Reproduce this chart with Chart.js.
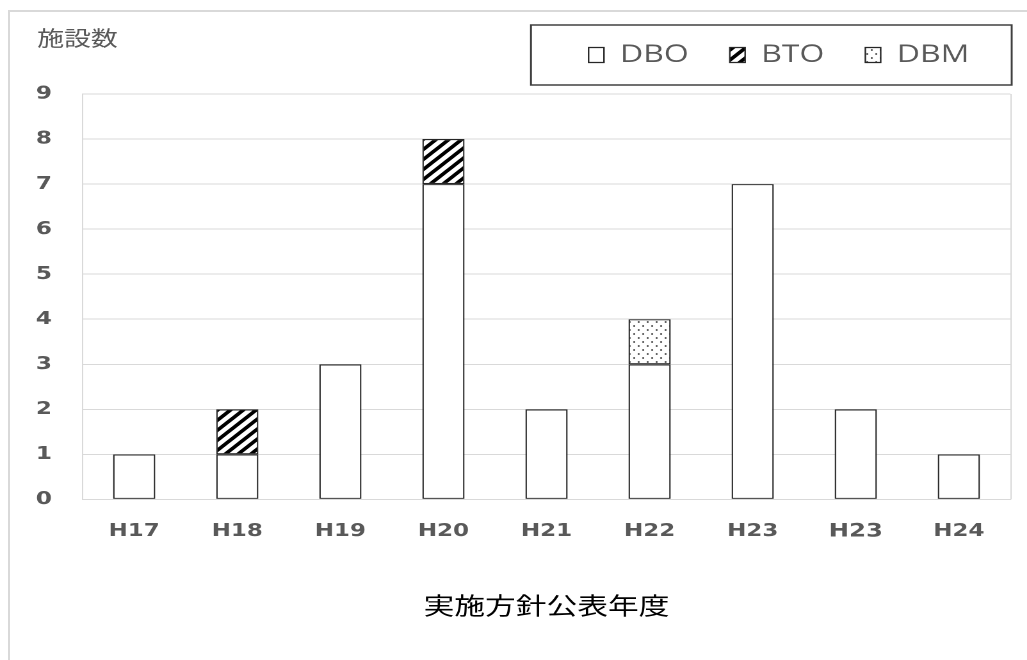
<!DOCTYPE html>
<html>
<head>
<meta charset="utf-8">
<script src="https://cdn.jsdelivr.net/npm/chart.js@4"></script>
<style>
  html, body { margin: 0; padding: 0; background: #fff; overflow: hidden; }
  #frame { position: absolute; left: 8px; top: 10px; width: 1030px; height: 660px;
           border-left: 2px solid #d9d9d9; border-top: 2px solid #d9d9d9; }
  /* the reference is stretched sideways, so draw narrow and widen */
  #wrap { position: absolute; left: 0; top: 0; width: 802px; height: 660px;
          transform: scaleX(1.2806); transform-origin: 0 0; }
</style>
</head>
<body>
<div id="frame"></div>
<div id="wrap"><canvas id="chart" width="802" height="660"></canvas></div>
<script>
const years = ['H17', 'H18', 'H19', 'H20', 'H21', 'H22', 'H23', 'H23', 'H24'];
const dbo = [1, 1, 3, 7, 2, 3, 7, 2, 1];
const bto = [0, 1, 0, 1, 0, 0, 0, 0, 0];
const dbm = [0, 0, 0, 0, 0, 1, 0, 0, 0];
const seriesNames = ['DBO', 'BTO', 'DBM'];
const yTitle = '施設数';
const xTitle = '実施方針公表年度';
const yMax = 9;

function hatch() {
  const c = document.createElement('canvas');
  c.width = c.height = 20;
  const g = c.getContext('2d');
  g.fillStyle = '#fff';
  g.fillRect(0, 0, 20, 20);
  g.strokeStyle = '#000';
  g.lineWidth = 6.5;
  g.beginPath();
  for (let k = -1; k <= 1; k++) {
    g.moveTo(k * 20 - 5, 25);
    g.lineTo(k * 20 + 25, -5);
  }
  g.stroke();
  const p = g.createPattern(c, 'repeat');
  p.setTransform(new DOMMatrix().scale(0.5));
  return p;
}

function dots() {
  const c = document.createElement('canvas');
  c.width = 14;
  c.height = 16;
  const g = c.getContext('2d');
  g.fillStyle = '#fff';
  g.fillRect(0, 0, 14, 16);
  g.fillStyle = '#3a3a3a';
  for (const [x, y] of [[3.5, 4], [10.5, 12]]) {
    g.beginPath();
    g.arc(x, y, 1.7, 0, Math.PI * 2);
    g.fill();
  }
  const p = g.createPattern(c, 'repeat');
  p.setTransform(new DOMMatrix().scale(0.5));
  return p;
}

// plot frame, legend box and the y title
const decor = {
  id: 'decor',
  beforeDatasetsDraw(chart) {
    const {ctx, chartArea: a} = chart;
    ctx.save();
    ctx.strokeStyle = '#d9d9d9';
    ctx.lineWidth = 1;
    ctx.beginPath();
    ctx.moveTo(a.right + 0.5, a.top);
    ctx.lineTo(a.right + 0.5, a.bottom);
    ctx.stroke();
    ctx.restore();
  },
  afterDraw(chart) {
    const {ctx, legend} = chart;
    ctx.save();
    const left = legend.legendHitBoxes[0].left - 45;
    ctx.strokeStyle = '#404040';
    ctx.lineWidth = 1.5;
    ctx.strokeRect(left, 25, chart.chartArea.right + 1 - left, 60);
    ctx.fillStyle = '#595959';
    ctx.font = '21px "Noto Sans CJK JP"';
    ctx.textBaseline = 'middle';
    ctx.fillText(yTitle, 29, 38);
    ctx.restore();
  }
};

const bar = {borderColor: '#262626', borderWidth: 1.2, borderSkipped: false};

new Chart(document.getElementById('chart'), {
  type: 'bar',
  data: {
    labels: years,
    datasets: [
      {label: seriesNames[0], data: dbo, backgroundColor: '#fff', ...bar},
      {label: seriesNames[1], data: bto, backgroundColor: hatch(), ...bar},
      {label: seriesNames[2], data: dbm, backgroundColor: dots(), ...bar}
    ]
  },
  options: {
    responsive: false,
    animation: false,
    devicePixelRatio: 2,
    // tick padding is counted twice in the axis size, hence the small left pad
    layout: {padding: {left: 4, right: 13, top: 10.5, bottom: 40}},
    datasets: {bar: {categoryPercentage: 1, barPercentage: 0.41}},
    plugins: {
      legend: {
        position: 'top',
        align: 'end',
        labels: {
          font: {family: 'Open Sans', size: 25},
          color: '#595959',
          boxWidth: 12,
          boxHeight: 15,
          padding: 32
        }
      },
      // empty title only keeps a gap under the legend
      title: {display: true, text: '', weight: 500, padding: 0, font: {size: 16.5, lineHeight: 1}},
      tooltip: {enabled: false}
    },
    scales: {
      x: {
        stacked: true,
        grid: {display: false, drawTicks: false},
        border: {color: '#d9d9d9'},
        ticks: {
          color: '#595959',
          padding: 21,
          font: c => ({family: 'DejaVu Sans', size: c.index === 7 ? 19 : 18, weight: 'bold'})
        },
        title: {
          display: true,
          text: xTitle,
          color: '#000',
          font: {family: 'Noto Sans CJK JP', size: 24},
          padding: {top: 27, bottom: 0}
        }
      },
      y: {
        stacked: true,
        min: 0,
        max: yMax,
        grid: {color: '#d9d9d9', drawTicks: false},
        border: {color: '#d9d9d9'},
        ticks: {
          stepSize: 1,
          color: '#595959',
          padding: 24,
          font: {family: 'DejaVu Sans', size: 18, weight: 'bold'}
        }
      }
    }
  },
  plugins: [decor]
});
</script>
</body>
</html>
